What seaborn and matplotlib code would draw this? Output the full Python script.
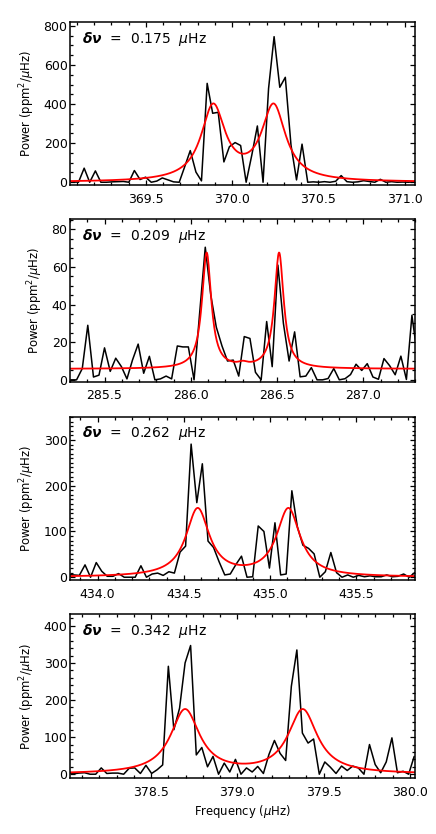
import numpy as np
import matplotlib
matplotlib.use("Agg")
import matplotlib.pyplot as plt
from matplotlib.ticker import MultipleLocator, FormatStrFormatter
import seaborn as sns

# rotational splitting quoted in each panel
splittings = ["0.175", "0.209", "0.262", "0.342"]

# panel 1 - power spectrum
freq1 = [369.077, 369.109, 369.142, 369.174, 369.207, 369.239, 369.271, 369.304, 369.336, 369.369,
         369.401, 369.433, 369.466, 369.498, 369.531, 369.563, 369.595, 369.628, 369.660, 369.693,
         369.725, 369.757, 369.790, 369.822, 369.855, 369.887, 369.919, 369.952, 369.984, 370.017,
         370.049, 370.081, 370.114, 370.146, 370.179, 370.211, 370.243, 370.276, 370.308, 370.341,
         370.373, 370.405, 370.438, 370.470, 370.503, 370.535, 370.567, 370.600, 370.632, 370.665,
         370.697, 370.729, 370.762, 370.794, 370.827, 370.859, 370.891, 370.924, 370.956, 370.989,
         371.021, 371.053]
power1 = [2, 0, 72, 0, 58, 0, 0, 2, 3, 4,
          0, 60, 14, 26, 0, 6, 22, 12, 2, 0,
          80, 162, 52, 7, 506, 353, 358, 104, 182, 203,
          188, 0, 140, 288, 0, 480, 745, 486, 537, 190,
          12, 195, 0, 2, 0, 3, 0, 5, 34, 3,
          0, 2, 8, 4, 0, 15, 0, 3, 0, 1,
          0, 2]

# panel 2
freq2 = [285.306, 285.338, 285.371, 285.403, 285.436, 285.468, 285.500, 285.533, 285.565, 285.598,
         285.630, 285.662, 285.695, 285.727, 285.760, 285.792, 285.824, 285.857, 285.889, 285.922,
         285.954, 285.986, 286.019, 286.051, 286.084, 286.116, 286.148, 286.181, 286.213, 286.246,
         286.278, 286.310, 286.343, 286.375, 286.408, 286.440, 286.472, 286.505, 286.537, 286.570,
         286.602, 286.634, 286.667, 286.699, 286.732, 286.764, 286.796, 286.829, 286.861, 286.894,
         286.926, 286.958, 286.991, 287.023, 287.056, 287.088, 287.120, 287.153, 287.185, 287.218,
         287.250, 287.282, 287.315]
power2 = [0, 0, 6, 29, 1.5, 2.5, 17, 4.5, 11.5, 7,
          0.5, 10.5, 19, 3.5, 12.5, 0, 0.5, 2, 0.5, 18,
          17.5, 17.5, 0, 35, 70.5, 45, 28, 18, 10, 10.5,
          2, 23, 22, 4, 0, 31, 7, 61, 30, 10,
          25.5, 1.6, 2, 6.5, 0, 0, 0.7, 6, 0, 0.6,
          2.8, 8.3, 5, 8.6, 1.5, 0.3, 11.3, 7.5, 2.7, 12.6,
          0.2, 34.3, 12]

# panel 3
freq3 = [433.830, 433.862, 433.894, 433.927, 433.959, 433.992, 434.024, 434.056, 434.089, 434.121,
         434.154, 434.186, 434.218, 434.251, 434.283, 434.316, 434.348, 434.380, 434.413, 434.445,
         434.478, 434.510, 434.542, 434.575, 434.607, 434.640, 434.672, 434.704, 434.737, 434.769,
         434.802, 434.834, 434.866, 434.899, 434.931, 434.964, 434.996, 435.028, 435.061, 435.093,
         435.126, 435.158, 435.190, 435.223, 435.255, 435.288, 435.320, 435.352, 435.385, 435.417,
         435.450, 435.482, 435.514, 435.547, 435.579, 435.612, 435.644, 435.676, 435.709, 435.741,
         435.774, 435.806, 435.838]
power3 = [6, 5, 4, 27, 0, 32, 13, 2, 2, 8,
          0, 0, 0, 25, 0, 7, 9, 4, 12, 9,
          55, 68, 291, 163, 248, 79, 65, 34, 5, 7,
          28, 46, 0, 1, 112, 100, 20, 119, 5, 7,
          189, 110, 70, 63, 51, 0, 12, 54, 10, 0,
          5, 0, 4, 1, 3, 1, 1, 5, 1, 2,
          7, 0, 10]

# panel 4
freq4 = [378.017, 378.049, 378.081, 378.114, 378.146, 378.179, 378.211, 378.243, 378.276, 378.308,
         378.341, 378.373, 378.405, 378.438, 378.470, 378.503, 378.535, 378.567, 378.600, 378.632,
         378.665, 378.697, 378.729, 378.762, 378.794, 378.827, 378.859, 378.891, 378.924, 378.956,
         378.989, 379.021, 379.053, 379.086, 379.118, 379.151, 379.183, 379.215, 379.248, 379.280,
         379.313, 379.345, 379.377, 379.410, 379.442, 379.475, 379.507, 379.539, 379.572, 379.604,
         379.637, 379.669, 379.701, 379.734, 379.766, 379.799, 379.831, 379.863, 379.896, 379.928,
         379.961, 379.993, 380.025]
power4 = [5, 1, 3, 4, 0, 0, 17, 2, 3, 3,
          0, 16, 17, 2, 24, 2, 12, 25, 291, 120,
          178, 300, 347, 52, 72, 20, 48, 0, 30, 6,
          40, 0, 17, 6, 21, 2, 53, 91, 56, 37,
          237, 335, 111, 84, 95, 0, 33, 19, 2, 22,
          10, 22, 17, 0, 80, 26, 4, 33, 98, 4,
          8, 0, 48]

# Lorentzian fit parameters (centre, height, full width, background)
fit_centres = [[369.890, 370.240], [286.092, 286.302, 286.512], [434.580, 435.106], [378.697, 379.379]]
fit_heights = [[382, 382], [61.5, 1.5, 61.5], [148, 148], [172, 172]]
fit_widths = [[0.17, 0.17], [0.065, 0.065, 0.065], [0.165, 0.165], [0.205, 0.205]]
fit_background = [0.0, 5.8, 0.0, 0.0]

freqs = [freq1, freq2, freq3, freq4]
powers = [power1, power2, power3, power4]

# axis set-up
xlims = [(369.06, 371.06), (285.30, 287.30), (433.84, 435.84), (378.03, 380.03)]
ylims = [(-14, 820), (-1, 85.5), (-6, 351), (-11, 432)]
ymajor = [200, 20, 100, 100]
yminor = [50, 5, 10, 20]
# axes boxes in figure fraction (left, bottom, width, height)
boxes = [(0.1606, 0.7782, 0.7913, 0.1954),
         (0.1606, 0.5423, 0.7913, 0.1951),
         (0.1606, 0.3046, 0.7913, 0.1958),
         (0.1606, 0.0668, 0.7913, 0.1970)]


def lorentz_model(nu, centres, heights, widths, bg):
    model = np.full_like(nu, bg, dtype=float)
    for c, h, w in zip(centres, heights, widths):
        model += h / (1.0 + 4.0 * ((nu - c) / w) ** 2)
    return model


sns.set_style("ticks")
plt.rcParams['font.family'] = ['DejaVu Sans']
plt.rcParams['text.color'] = 'black'
plt.rcParams['axes.labelcolor'] = 'black'
plt.rcParams['xtick.color'] = 'black'
plt.rcParams['ytick.color'] = 'black'
plt.rcParams['mathtext.fontset'] = 'custom'
plt.rcParams['mathtext.rm'] = 'DejaVu Sans'
plt.rcParams['mathtext.it'] = 'DejaVu Sans:italic'
plt.rcParams['mathtext.bf'] = 'DejaVu Sans:bold:italic'

fig = plt.figure(figsize=(4.36, 8.34), dpi=100)

for i in range(4):
    ax = fig.add_axes(boxes[i])
    sns.lineplot(x=freqs[i], y=powers[i], ax=ax, color='black', lw=1.1,
                 estimator=None, sort=False)
    nu = np.linspace(xlims[i][0], xlims[i][1], 800)
    sns.lineplot(x=nu, y=lorentz_model(nu, fit_centres[i], fit_heights[i],
                                       fit_widths[i], fit_background[i]),
                 ax=ax, color='red', lw=1.3, estimator=None, sort=False)

    ax.set_xlim(xlims[i])
    ax.set_ylim(ylims[i])
    ax.xaxis.set_major_locator(MultipleLocator(0.5))
    ax.xaxis.set_minor_locator(MultipleLocator(0.1))
    ax.xaxis.set_major_formatter(FormatStrFormatter('%.1f'))
    ax.yaxis.set_major_locator(MultipleLocator(ymajor[i]))
    ax.yaxis.set_minor_locator(MultipleLocator(yminor[i]))

    ax.tick_params(which='both', direction='in', top=True, right=True,
                   labelsize=9, colors='black', width=0.9)
    ax.tick_params(which='major', length=3.8)
    ax.tick_params(which='minor', length=1.9)
    ax.tick_params(axis='x', pad=5.5)
    ax.tick_params(axis='y', pad=1.8)
    for s in ax.spines.values():
        s.set_linewidth(1.1)
        s.set_color('black')

    ax.set_ylabel(r'Power (ppm$^2$/$\mu$Hz)', fontsize=8.4, labelpad=5)
    ax.set_xlabel('')
    ax.text(0.035, 0.873, r'$\mathbf{\delta\nu}$  =  ' + splittings[i] + r'  $\mu$Hz',
            transform=ax.transAxes, fontsize=10, va='baseline', ha='left',
            color='black')

    if i == 3:
        ax.set_xlabel(r'Frequency ($\mu$Hz)', fontsize=8.4, labelpad=3)

fig.savefig('out.png', dpi=100)
